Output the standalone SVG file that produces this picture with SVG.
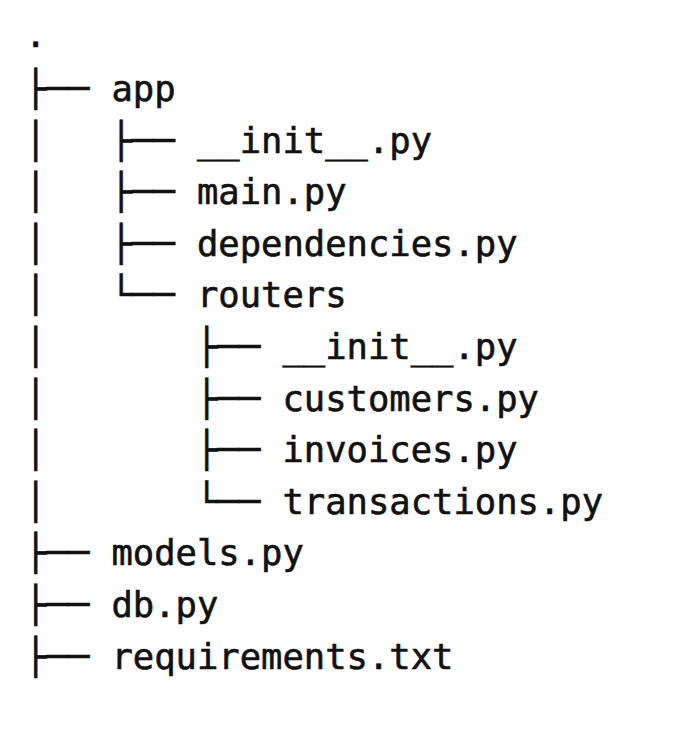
<svg xmlns="http://www.w3.org/2000/svg" width="684" height="756" viewBox="0 0 684 756">
<style>
text{font-family:"DejaVu Sans Mono","Liberation Mono",monospace;font-size:35.5px;fill:#111;stroke:#111;stroke-width:0.6px;white-space:pre}
</style>
<rect width="684" height="756" fill="#fff"/>
<g id="connectors" xml:space="preserve">
<text x="25" y="101">├── </text>
<text x="25" y="152.6">│   ├── </text>
<text x="25" y="204.2">│   ├── </text>
<text x="25" y="255.8">│   ├── </text>
<text x="25" y="307.4">│   └── </text>
<text x="25" y="359">│       ├── </text>
<text x="25" y="410.6">│       ├── </text>
<text x="25" y="462.2">│       ├── </text>
<text x="25" y="513.8">│       └── </text>
<text x="25" y="565.4">├── </text>
<text x="25" y="617">├── </text>
<text x="25" y="668.6">├── </text>
</g>
<g id="root"><text x="25" y="47">.</text></g>
<g id="app"><text x="111.5" y="101">app</text></g>
<g id="app_init"><text x="197" y="152.6">__init__.py</text></g>
<g id="main"><text x="197" y="204.2">main.py</text></g>
<g id="dependencies"><text x="197" y="255.8">dependencies.py</text></g>
<g id="routers"><text x="197" y="307.4">routers</text></g>
<g id="routers_init"><text x="282.5" y="359">__init__.py</text></g>
<g id="customers"><text x="282.5" y="410.6">customers.py</text></g>
<g id="invoices"><text x="282.5" y="462.2">invoices.py</text></g>
<g id="transactions"><text x="282.5" y="513.8">transactions.py</text></g>
<g id="models"><text x="111.5" y="565.4">models.py</text></g>
<g id="db"><text x="111.5" y="617">db.py</text></g>
<g id="requirements"><text x="111.5" y="668.6">requirements.txt</text></g>
</svg>
